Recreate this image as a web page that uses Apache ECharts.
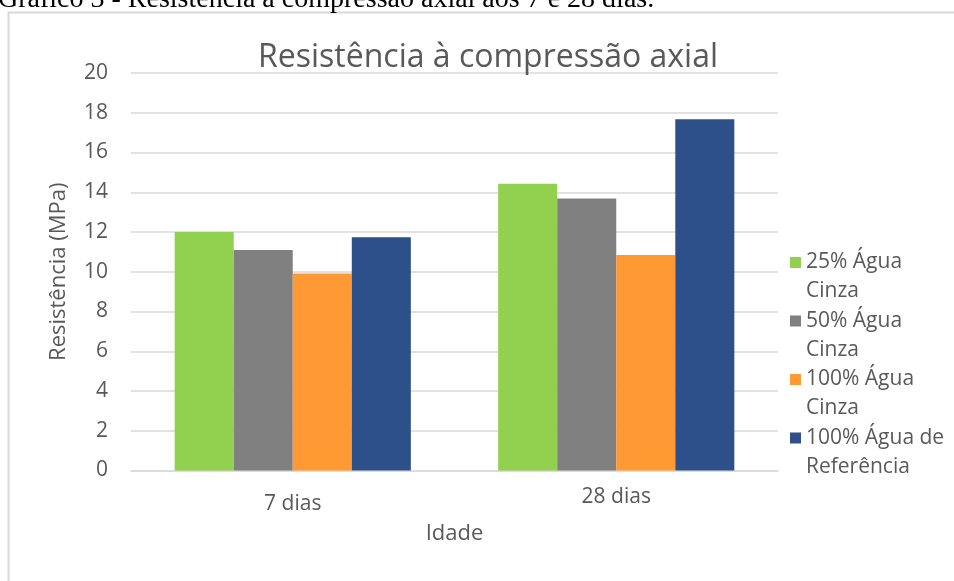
<!DOCTYPE html>
<html>
<head>
<meta charset="utf-8">
<style>html,body{margin:0;padding:0;background:#fff;}#c{width:954px;height:581px;}</style>
<script src="https://cdn.jsdelivr.net/npm/echarts@6/dist/echarts.min.js"></script>
</head>
<body>
<div id="c"></div>
<script>
const categories = ['7 dias', '28 dias'];
const seriesNames = ['25% Água\nCinza', '50% Água\nCinza', '100% Água\nCinza', '100% Água de\nReferência'];
const agua25 = [12.0, 14.43];
const agua50 = [11.09, 13.68];
const agua100 = [9.91, 10.84];
const aguaRef = [11.73, 17.67];
const yTicks = [0, 2, 4, 6, 8, 10, 12, 14, 16, 18, 20];
const colors = ['#92D050', '#808080', '#FF9933', '#2E508A'];

const font = 'Open Sans';
const txt = '#595959';
const chart = echarts.init(document.getElementById('c'));
const seriesData = [agua25, agua50, agua100, aguaRef];
chart.setOption({
  animation: false,
  backgroundColor: '#fff',
  title: {
    text: 'Resistência à compressão axial',
    left: 258, top: 42, padding: 0,
    textStyle: { fontFamily: font, fontSize: 32, fontWeight: 'normal', color: txt }
  },
  graphic: [
    { type: 'rect', z: -1, shape: { x: 8.5, y: 12.5, width: 1000, height: 700 },
      style: { fill: '#fff', stroke: '#D9D9D9', lineWidth: 2 } },
    { type: 'text', x: -2, y: 0,
      style: { text: 'Gráfico 3 - Resistência à compressão axial aos 7 e 28 dias.',
        font: '28px "Liberation Serif"', fill: '#000', verticalAlign: 'middle' } }
  ],
  legend: {
    orient: 'vertical', left: 790, top: 219, padding: 0,
    itemWidth: 11, itemHeight: 11, itemGap: -28.5,
    icon: 'rect',
    formatter: n => '\n' + n,
    textStyle: { fontFamily: font, fontSize: 21, color: txt, lineHeight: 29 }
  },
  grid: { left: 131, right: 176, top: 73, bottom: 110.5 },
  xAxis: {
    type: 'category',
    data: categories.map((c, i) => ({ value: c, textStyle: { padding: [i === 0 ? 7 : 0, 0, 0, 0] } })),
    name: 'Idade', nameLocation: 'middle', nameGap: 52,
    nameTextStyle: { fontFamily: font, fontSize: 22, color: txt },
    axisLine: { lineStyle: { color: '#D9D9D9', width: 1.5 } },
    axisTick: { show: false },
    axisLabel: { fontFamily: font, fontSize: 21, color: txt, margin: 16 }
  },
  yAxis: {
    type: 'value', min: yTicks[0], max: yTicks[yTicks.length - 1], interval: 2,
    name: 'Resistência (MPa)', nameLocation: 'middle', nameGap: 61,
    nameTextStyle: { fontFamily: font, fontSize: 22, color: txt },
    axisLine: { show: false }, axisTick: { show: false },
    axisLabel: { fontFamily: font, fontSize: 21, color: txt, margin: 23 },
    splitLine: { lineStyle: { color: '#D9D9D9', width: 1.5 } }
  },
  series: seriesNames.map((n, i) => ({
    name: n, type: 'bar', data: seriesData[i], barGap: '0%', barCategoryGap: '27%',
    itemStyle: { color: colors[i] }
  }))
});
</script>
</body>
</html>
